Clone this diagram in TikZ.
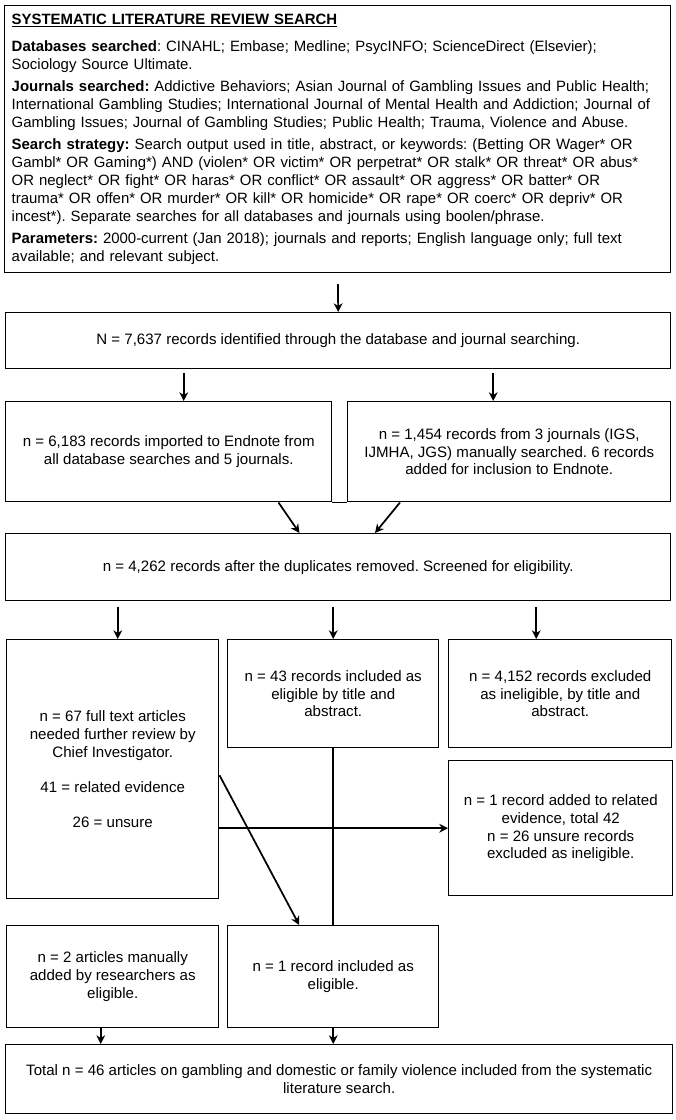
\documentclass[tikz,border=0pt]{standalone}
\usepackage{fontspec}
\setmainfont{Liberation Sans}
\usetikzlibrary{arrows.meta,positioning}

\begin{document}
\frenchspacing
\begin{tikzpicture}[
	x=0.75pt, y=-0.75pt,
	every node/.style={font=\fontsize{11.3}{13.3}\selectfont},
	box/.style={draw, line width=1.1pt, anchor=north west, align=center, inner sep=2pt},
	arr/.style={-{Stealth[length=6.5pt,width=6.5pt,inset=2pt]}, line width=1.3pt},
	link/.style={line width=1.3pt}
	]
	\def\u{0.75pt}
	\useasboundingbox (0,0) rectangle (675,1120);

	% search description
	\node[box, align=left, text width=652*\u, inner xsep=7*\u, minimum width=666*\u, minimum height=267*\u,
		font=\fontsize{11.2}{13.5}\selectfont] (search) at (4,5) {%
		\textbf{\underline{SYSTEMATIC LITERATURE REVIEW SEARCH}}\\[7pt]
		\textbf{Databases searched}: CINAHL; Embase; Medline; PsycINFO; ScienceDirect (Elsevier);\\
		Sociology Source Ultimate.\\[3pt]
		\textbf{Journals searched:} Addictive Behaviors; Asian Journal of Gambling Issues and Public Health;\\
		International Gambling Studies; International Journal of Mental Health and Addiction; Journal of\\
		Gambling Issues; Journal of Gambling Studies; Public Health; Trauma, Violence and Abuse.\\[3pt]
		\textbf{Search strategy:} Search output used in title, abstract, or keywords: (Betting OR Wager* OR\\
		Gambl* OR Gaming*) AND (violen* OR victim* OR perpetrat* OR stalk* OR threat* OR abus*\\
		OR neglect* OR fight* OR haras* OR conflict* OR assault* OR aggress* OR batter* OR\\
		trauma* OR offen* OR murder* OR kill* OR homicide* OR rape* OR coerc* OR depriv* OR\\
		incest*). Separate searches for all databases and journals using boolen/phrase.\\[3pt]
		\textbf{Parameters:} 2000-current (Jan 2018); journals and reports; English language only; full text\\
		available; and relevant subject.};

	\node[box, minimum width=665*\u, minimum height=56*\u] (ident) at (5,312)
		{N = 7,637 records identified through the database and journal searching.};
	\node[box, minimum width=326*\u, minimum height=100*\u] (endnote) at (5,401)
		{n = 6,183 records imported to Endnote from\\all database searches and 5 journals.};
	\node[box, minimum width=323*\u, minimum height=100*\u] (manual) at (347,401)
		{n = 1,454 records from 3 journals (IGS,\\IJMHA, JGS) manually searched. 6 records\\added for inclusion to Endnote.};
	\node[box, minimum width=665*\u, minimum height=67*\u] (screened) at (5,533)
		{n = 4,262 records after the duplicates removed. Screened for eligibility.};

	\node[box, minimum width=212*\u, minimum height=259*\u] (fulltext) at (6,639)
		{n = 67 full text articles\\needed further review by\\Chief Investigator.\\[13pt]41 = related evidence\\[13pt]26 = unsure};
	\node[box, minimum width=211*\u, minimum height=108*\u] (incl43) at (227,639)
		{n = 43 records included as\\eligible by title and\\abstract.};
	\node[box, minimum width=223*\u, minimum height=108*\u] (excl) at (448,639)
		{n = 4,152 records excluded\\as ineligible, by title and\\abstract.};
	\node[box, minimum width=224*\u, minimum height=135*\u] (added) at (448,760)
		{n = 1 record added to related\\evidence, total 42\\n = 26 unsure records\\excluded as ineligible.};

	\node[box, minimum width=212*\u, minimum height=102*\u] (manual2) at (6,925)
		{n = 2 articles manually\\added by researchers as\\eligible.};
	\node[box, minimum width=211*\u, minimum height=102*\u] (incl1) at (227,925)
		{n = 1 record included as\\eligible.};
	\node[box, minimum width=667*\u, minimum height=69*\u] (total) at (5,1044)
		{Total n = 46 articles on gambling and domestic or family violence included from the systematic\\literature search.};

	% connectors
	\draw[arr, shorten <=8pt] (search.south) -- (ident.north);
	\draw[arr, shorten <=3pt] ([xshift=15*\u]endnote.north |- ident.south) -- ([xshift=15*\u]endnote.north);
	\draw[arr, shorten <=3pt] ([xshift=-16*\u]manual.north |- ident.south) -- ([xshift=-16*\u]manual.north);
	\draw[link] (endnote.south east) -- (manual.south west);
	\draw[arr] ([xshift=-54*\u]endnote.south east) -- ([xshift=-33*\u]endnote.south east |- screened.north);
	\draw[arr] ([xshift=53*\u]manual.south west) -- ([xshift=28*\u]manual.south west |- screened.north);

	\draw[arr, shorten <=4pt] ([xshift=5*\u]fulltext.north |- screened.south) -- ([xshift=5*\u]fulltext.north);
	\draw[arr, shorten <=4pt] (incl43.north |- screened.south) -- (incl43.north);
	\draw[arr, shorten <=4pt] ([xshift=-24*\u]excl.north |- screened.south) -- ([xshift=-24*\u]excl.north);

	\draw[arr] (fulltext.east |- added.west) -- (added.west);
	\draw[arr] ([yshift=-6*\u]fulltext.east) -- ([xshift=-34*\u]incl1.north);
	\draw[link] (incl43.south) -- (incl1.north);

	\draw[arr] ([xshift=-12*\u]manual2.south) -- ([xshift=-12*\u]manual2.south |- total.north);
	\draw[arr] (incl1.south) -- (incl1.south |- total.north);
\end{tikzpicture}
\end{document}
